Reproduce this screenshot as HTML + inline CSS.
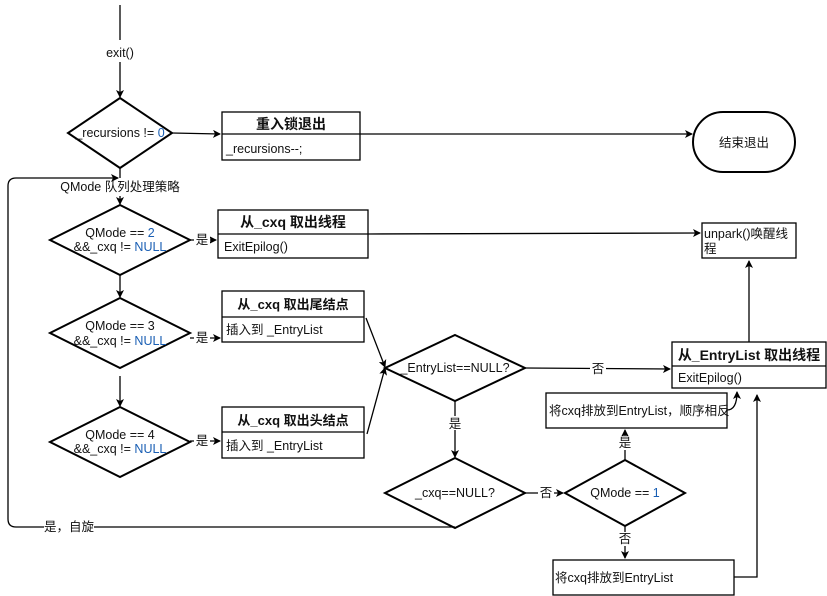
<!DOCTYPE html>
<html><head><meta charset="utf-8"><style>
body{margin:0;background:#fff}
svg{display:block;font-family:"Liberation Sans","Noto Sans CJK SC",sans-serif}
text{font-size:12.5px;fill:#111}
.b{font-weight:bold;font-size:14px}
.blue{fill:#1a5fb4}
</style></head><body>
<svg width="827" height="596" viewBox="0 0 827 596">
<defs><marker id="a" markerWidth="8" markerHeight="8" refX="7" refY="4" orient="auto" markerUnits="userSpaceOnUse"><path d="M0,0 L8,4 L0,8 L2,4z" fill="#000"/></marker></defs>
<g fill="none" stroke="#000" stroke-width="1.3">
<line x1="120" y1="5" x2="120" y2="40"/>
<line x1="120" y1="62" x2="120" y2="97" marker-end="url(#a)"/>
<polygon points="120,98 172,133 120,168 68,133" stroke-width="2"/>
<line x1="172" y1="133" x2="220" y2="134" marker-end="url(#a)"/>
<rect x="222" y="112" width="138" height="48"/><line x1="222" y1="134" x2="360" y2="134"/>
<line x1="360" y1="134" x2="692" y2="134" marker-end="url(#a)"/>
<rect x="693" y="112" width="102" height="60" rx="30" stroke-width="2"/>
<line x1="120" y1="168" x2="120" y2="178"/>
<line x1="120" y1="196" x2="120" y2="204" marker-end="url(#a)"/>
<path d="M455,527 L16,527 Q8,527 8,519 L8,186 Q8,178 16,178 L118,178" marker-end="url(#a)"/>
<polygon points="120,205 190,240 120,275 50,240" stroke-width="2"/>
<line x1="190" y1="240" x2="216" y2="240" marker-end="url(#a)"/>
<rect x="218" y="210" width="150" height="48"/><line x1="218" y1="234" x2="368" y2="234"/>
<line x1="368" y1="234" x2="700" y2="233" marker-end="url(#a)"/>
<rect x="702" y="223" width="94" height="35"/>
<line x1="120" y1="275" x2="120" y2="297" marker-end="url(#a)"/>
<polygon points="120,298 190,333 120,368 50,333" stroke-width="2"/>
<line x1="190" y1="338" x2="220" y2="338" marker-end="url(#a)"/>
<rect x="222" y="291" width="142" height="51"/><line x1="222" y1="317" x2="364" y2="317"/>
<line x1="120" y1="376" x2="120" y2="406" marker-end="url(#a)"/>
<polygon points="120,407 190,442 120,477 50,442" stroke-width="2"/>
<line x1="190" y1="441" x2="220" y2="441" marker-end="url(#a)"/>
<rect x="222" y="407" width="142" height="51"/><line x1="222" y1="432" x2="364" y2="432"/>
<line x1="366" y1="318" x2="385" y2="367" marker-end="url(#a)"/>
<line x1="367" y1="434" x2="385" y2="368" marker-end="url(#a)"/>
<polygon points="455,335 525,368 455,401 385,368" stroke-width="2"/>
<line x1="525" y1="368" x2="670" y2="369" marker-end="url(#a)"/>
<rect x="672" y="342" width="154" height="46"/><line x1="672" y1="366" x2="826" y2="366"/>
<line x1="749" y1="342" x2="749" y2="261" marker-end="url(#a)"/>
<line x1="455" y1="401" x2="455" y2="457" marker-end="url(#a)"/>
<polygon points="455,458 525,493 455,528 385,493" stroke-width="2"/>
<line x1="525" y1="493" x2="563" y2="493" marker-end="url(#a)"/>
<polygon points="625,460 685,493 625,526 565,493" stroke-width="2"/>
<line x1="625" y1="460" x2="625" y2="430" marker-end="url(#a)"/>
<rect x="546" y="393" width="181" height="35"/>
<path d="M727,410 Q737,410 737,392" marker-end="url(#a)"/>
<line x1="625" y1="526" x2="625" y2="558" marker-end="url(#a)"/>
<rect x="553" y="560" width="181" height="35"/>
<path d="M734,577 L757,577 L757,395" marker-end="url(#a)"/>
</g>
<g text-anchor="middle">
<rect x="104" y="45" width="32" height="16" fill="#fff"/>
<text x="120" y="57">exit()</text>
<text x="120" y="137">_recursions != <tspan class="blue">0</tspan></text>
<text x="291" y="129" class="b">重入锁退出</text>
<text x="120" y="191">QMode 队列处理策略</text>
<text x="120" y="237">QMode == <tspan class="blue">2</tspan></text>
<text x="120" y="251">&amp;&amp;_cxq != <tspan class="blue">NULL</tspan></text>
<text x="293" y="227" class="b">从_cxq 取出线程</text>
<text x="120" y="330">QMode == 3</text>
<text x="120" y="345">&amp;&amp;_cxq != <tspan class="blue">NULL</tspan></text>
<text x="293" y="309" class="b" style="font-size:13px">从_cxq 取出尾结点</text>
<text x="120" y="439">QMode == 4</text>
<text x="120" y="453">&amp;&amp;_cxq != <tspan class="blue">NULL</tspan></text>
<text x="293" y="425" class="b" style="font-size:13px">从_cxq 取出头结点</text>
<text x="744" y="147">结束退出</text>
<text x="455" y="372">_EntryList==NULL?</text>
<text x="455" y="497">_cxq==NULL?</text>
<text x="625" y="497">QMode == <tspan class="blue">1</tspan></text>
<text x="749" y="360" class="b">从_EntryList 取出线程</text>
<rect x="590" y="362" width="16" height="14" fill="#fff"/><text x="598" y="373">否</text>
<rect x="447" y="416" width="16" height="14" fill="#fff"/><text x="455" y="428">是</text>
<rect x="538" y="486" width="16" height="14" fill="#fff"/><text x="546" y="497">否</text>
<rect x="617" y="436" width="16" height="14" fill="#fff"/><text x="625" y="447">是</text>
<rect x="617" y="532" width="16" height="14" fill="#fff"/><text x="625" y="543">否</text>
<rect x="44" y="520" width="50" height="14" fill="#fff"/><text x="69" y="531">是，自旋</text>
<rect x="194" y="233" width="16" height="14" fill="#fff"/><text x="202" y="244">是</text>
<rect x="194" y="331" width="16" height="14" fill="#fff"/><text x="202" y="342">是</text>
<rect x="194" y="434" width="16" height="14" fill="#fff"/><text x="202" y="445">是</text>
</g>
<text x="226" y="153">_recursions--;</text>
<text x="224" y="251">ExitEpilog()</text>
<text x="226" y="334">插入到 _EntryList</text>
<text x="226" y="450">插入到 _EntryList</text>
<text x="678" y="382">ExitEpilog()</text>
<text x="704" y="238">unpark()唤醒线</text>
<text x="704" y="253">程</text>
<text x="549" y="415">将cxq排放到EntryList，顺序相反</text>
<text x="555" y="582">将cxq排放到EntryList</text>
</svg>
</body></html>
